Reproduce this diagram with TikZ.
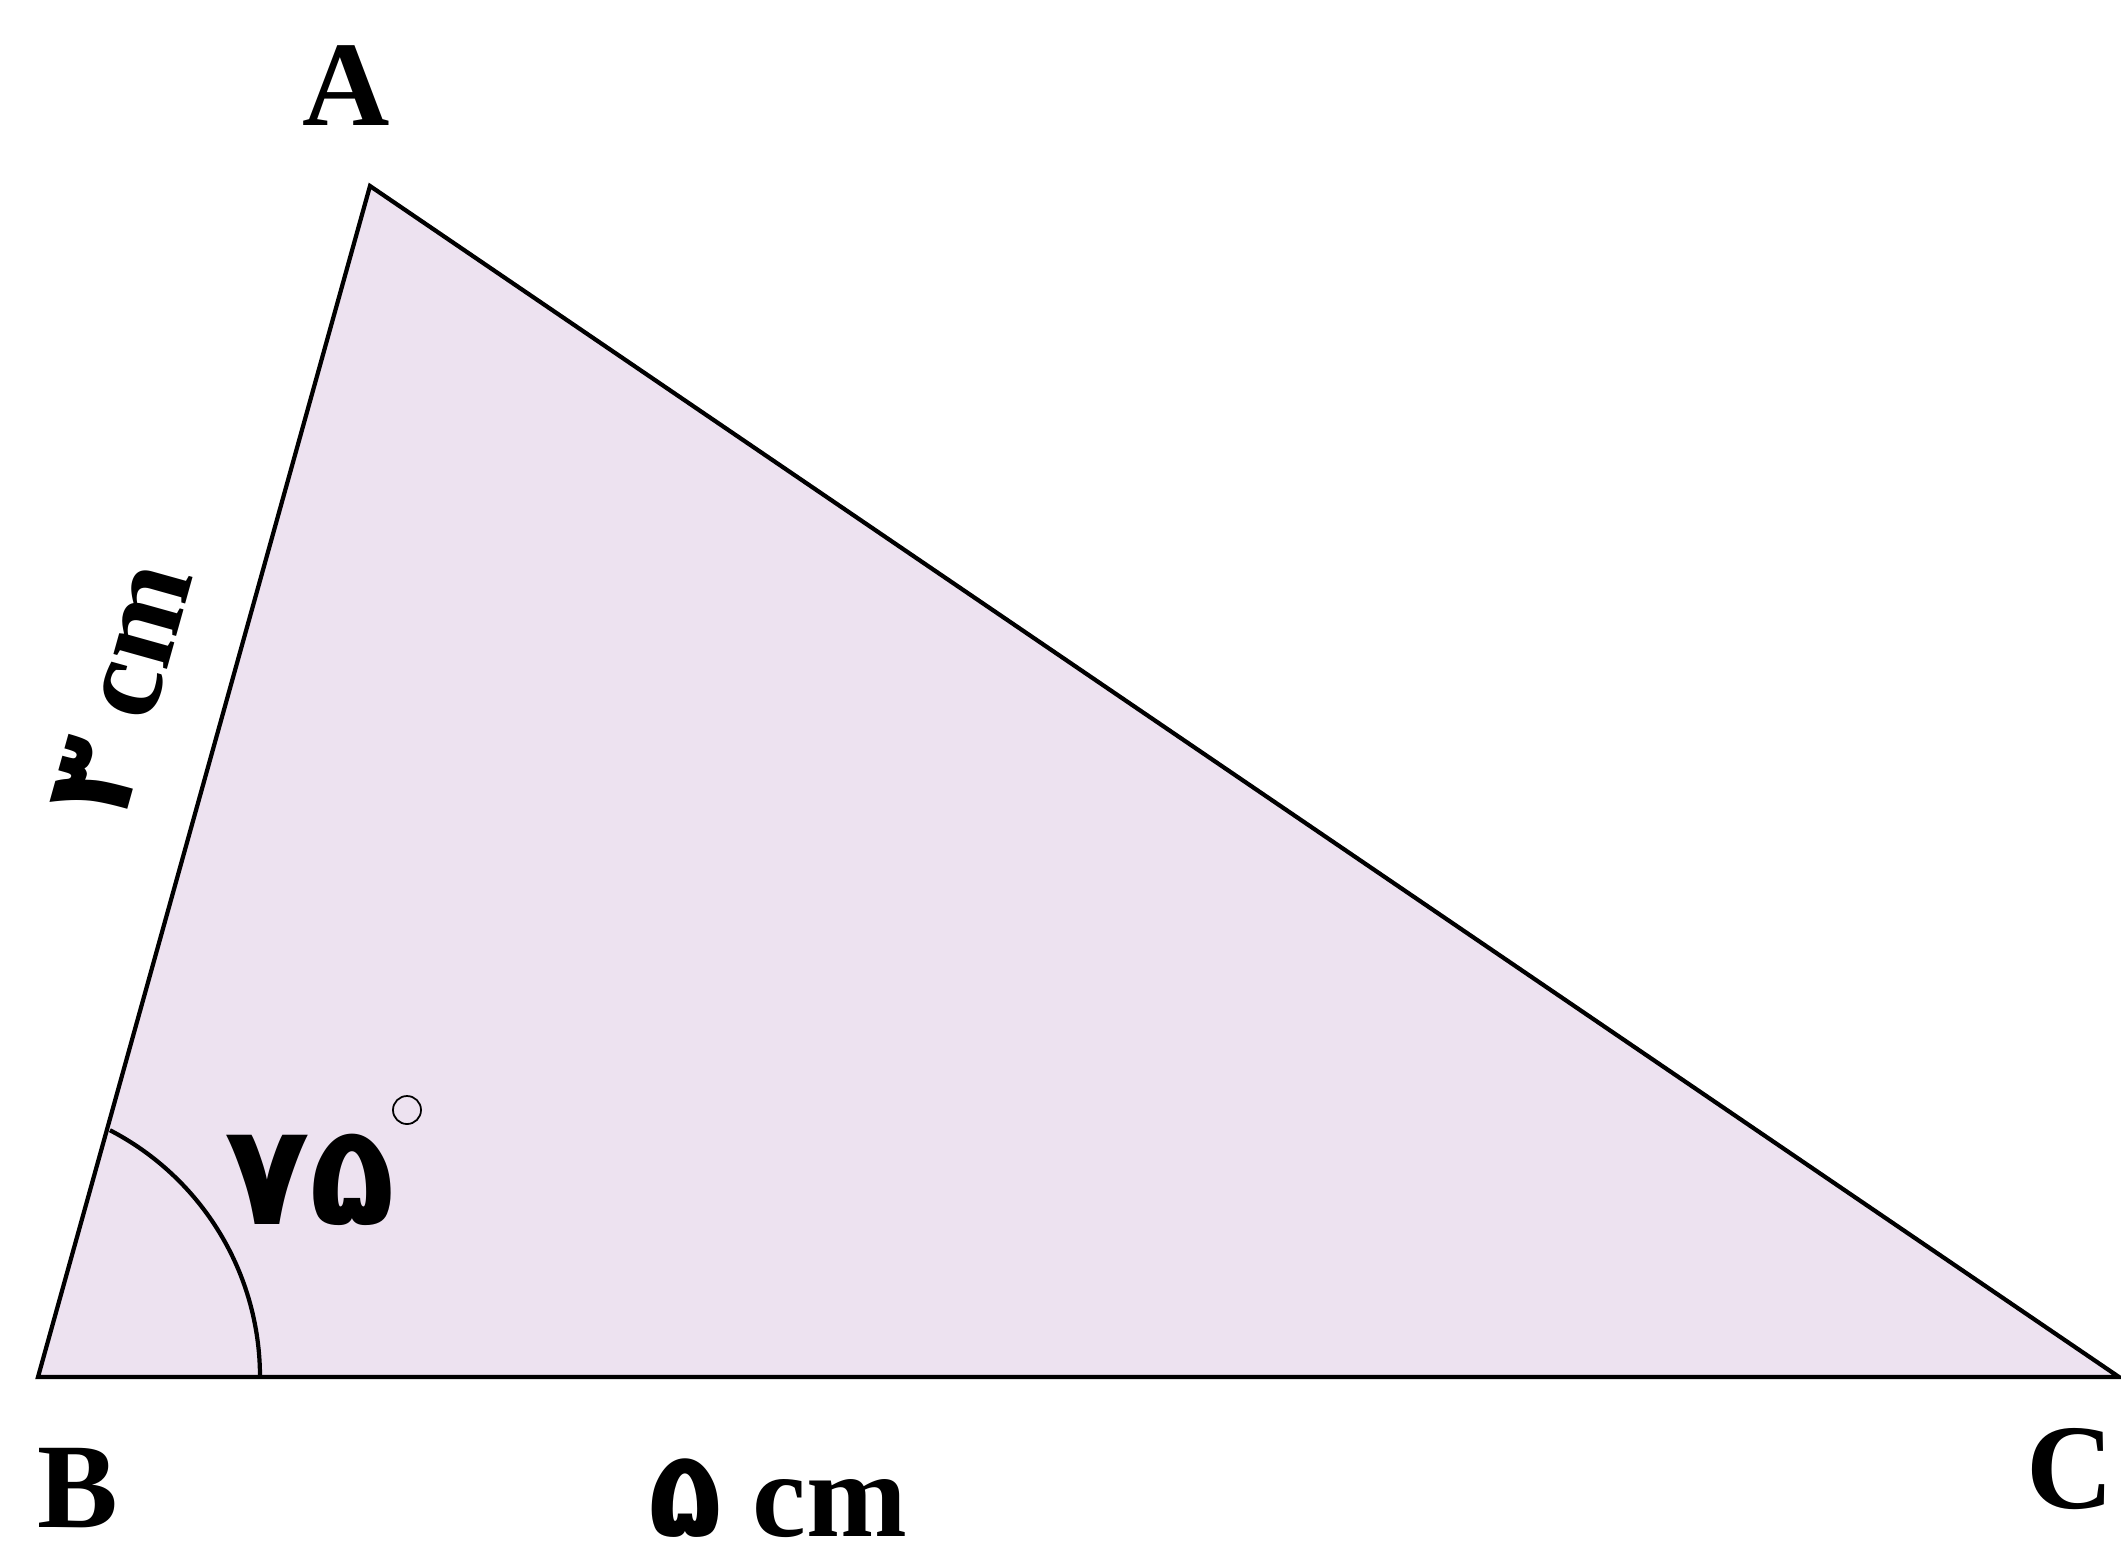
\documentclass[tikz,border=0pt]{standalone}
\usepackage{fontspec}
\setmainfont{Liberation Serif}
\newfontfamily\fa[Script=Arabic]{DejaVu Sans}
\definecolor{trifill}{RGB}{237,226,240}
\begin{document}
\begin{tikzpicture}[x=0.01cm,y=-0.01cm,
  edge/.style={draw=black,line width=1.2pt,line join=miter},
  vlabel/.style={font=\fontsize{34.4}{40}\selectfont\bfseries,inner sep=0pt,anchor=base},
  falabel/.style={font=\fontsize{40}{46}\selectfont\fa\bfseries,inner sep=0pt,anchor=base}]
\useasboundingbox (0,0) rectangle (2121,1554);
\coordinate (A) at (370,186);
\coordinate (B) at (38,1377);
\coordinate (C) at (2119,1377);
\fill[trifill] (A) -- (B) -- (C) -- cycle;
\draw[edge] (A) -- (B) -- (C) -- cycle;
% angle arc
\coordinate (arcstart) at (260,1377);
\draw[line width=1.2pt] (arcstart) arc[start angle=0,end angle=-62.6,radius=278];
% labels
\node[vlabel] (la) at (346,125) {A};
\node[vlabel] (lb) at (78,1527) {B};
\node[vlabel] (lc) at (2070,1508) {C};
\node[vlabel] (lbc) at (778,1536) {{\fa ۵} cm};
\node[vlabel,anchor=center,rotate=74.4] (lab) at (122,690) {{\fa ۳} cm};
\node[falabel] (ang) at (310,1224) {۷۵};
\node[circle,draw,line width=0.5pt,inner sep=0pt,minimum size=0.28cm] (deg) at (407,1110) {};
\end{tikzpicture}
\end{document}
